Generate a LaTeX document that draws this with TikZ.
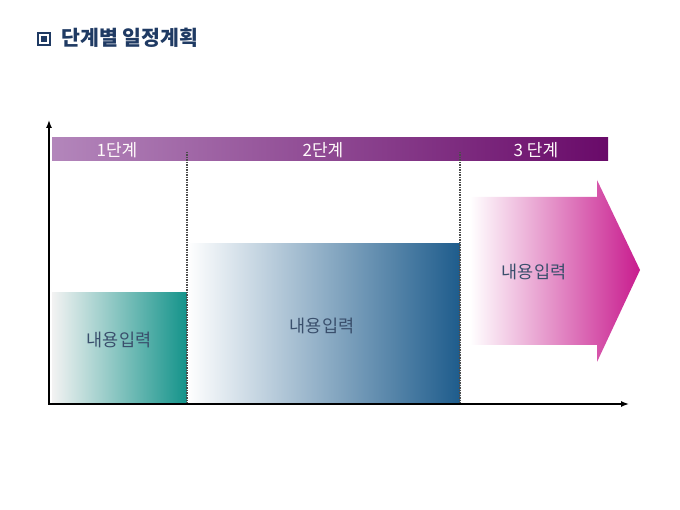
\documentclass[tikz,border=0pt]{standalone}
\usepackage{fontspec}
\setmainfont{Noto Sans CJK KR}
\usetikzlibrary{arrows.meta}
\definecolor{navy}{HTML}{1F3A63}
\definecolor{barL}{HTML}{B386BB}
\definecolor{barR}{HTML}{690A69}
\definecolor{tealR}{HTML}{13938A}
\definecolor{blueR}{HTML}{1E5C8C}
\definecolor{magR}{HTML}{C81C8E}
\definecolor{lbl}{HTML}{3A4F6C}
\tikzset{
  axis/.style={line width=1.4pt, -{Latex[length=8pt,width=6pt]}},
  divider/.style={line width=1.5pt, densely dotted, black!70},
  lab/.style={text=lbl, font=\fontsize{17.5}{17.5}\selectfont},
  hdr/.style={text=white!92!pink, font=\fontsize{17}{17}\selectfont},
}
\begin{document}
\begin{tikzpicture}[x=1pt,y=-1pt]
\useasboundingbox (0,0) rectangle (680,510);
% title
\node[draw=navy, line width=1.1pt, minimum size=12pt, inner sep=0pt] (ico) at (44,39) {};
\node[fill=navy, minimum size=6.5pt, inner sep=0pt] (icoin) at (ico.center) {};
\node[anchor=west, text=navy, font=\fontsize{20.5}{20.5}\bfseries\selectfont] (title) at (58,38) {단계별 일정계획};
% header bar
\node[shade, left color=barL, right color=barR, minimum width=556pt, minimum height=23pt, inner sep=0pt, anchor=north west] (bar) at (52,137) {};
\node[hdr] (h1) at (117,150) {1단계};
\node[hdr] (h2) at (323,150) {2단계};
\node[hdr] (h3) at (536,150) {3 단계};
% boxes
\node[shade, left color=white!95!black, right color=tealR, minimum width=135pt, minimum height=112pt, inner sep=0pt, anchor=north west] (b1) at (52,292) {};
\node[shade, left color=white, right color=blueR, minimum width=273pt, minimum height=161pt, inner sep=0pt, anchor=north west] (b2) at (187,243) {};
% arrow
\shade[left color=white, right color=magR] (470,197) -- (597,197) -- (597,180) -- (640,270) -- (597,362) -- (597,345) -- (470,345) -- cycle;
\coordinate (arr) at (534,272);
\node[lab] (t1) at (119,340) {내용입력};
\node[lab] (t2) at (322,326) {내용입력};
\node[lab] (t3) at (arr) {내용입력};
% dividers
\coordinate (d1t) at (187,152);
\coordinate (d1b) at (187,404);
\coordinate (d2t) at (460,152);
\coordinate (d2b) at (460,404);
\draw[divider] (d1t) -- (d1b);
\draw[divider] (d2t) -- (d2b);
% axes
\coordinate (o) at (49,404);
\coordinate (yt) at (49,120);
\coordinate (xr) at (629,404);
\draw[axis] (o) -- (yt);
\draw[axis] ([xshift=-0.7pt]o) -- (xr);
\end{tikzpicture}
\end{document}
